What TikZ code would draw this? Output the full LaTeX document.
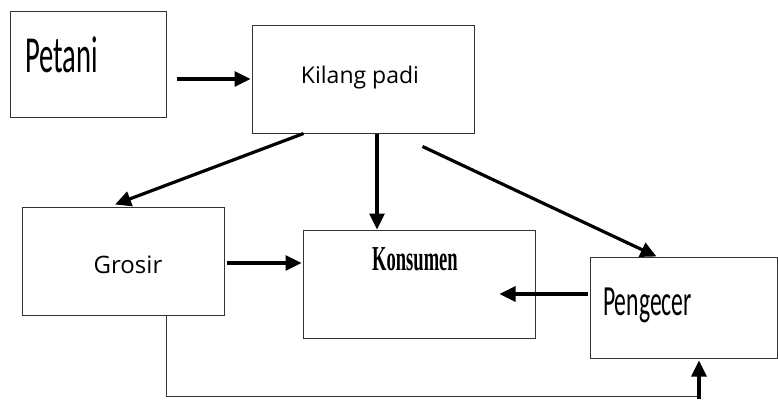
\documentclass[tikz,border=0pt]{standalone}
\usepackage{fontspec}
\setmainfont{Open Sans}
\newfontfamily\condfont{Carlito}
\newfontfamily\serifbold{Liberation Serif}
\usetikzlibrary{arrows.meta,calc}
\begin{document}
\begin{tikzpicture}[x=1pt,y=-1pt,
  box/.style={draw=black!80,line width=1pt,inner sep=0pt,rectangle},
  arr/.style={draw=black,line width=3.2pt,-{Triangle[length=16pt,width=15pt]}},
  thinline/.style={draw=black!80,line width=1pt},
  lbl/.style={inner sep=0pt}]
\useasboundingbox (0,0) rectangle (778,399);
% boxes
\node[box,minimum width=156pt,minimum height=106pt] (petani) at (88,64) {};
\node[box,minimum width=222pt,minimum height=108pt] (kilang) at (363,79) {};
\node[box,minimum width=202pt,minimum height=108pt] (grosir) at (123,261) {};
\node[box,minimum width=232pt,minimum height=108pt] (konsumen) at (419,284) {};
\node[box,minimum width=187pt,minimum height=101pt] (pengecer) at (683.5,307.5) {};
% texts
\node[lbl,anchor=base west] (tpetani) at (25,72) {\condfont\fontsize{52}{52}\selectfont\scalebox{0.55}[1]{Petani}};
\node[lbl,anchor=base] (tkilang) at (360,83) {\fontsize{23}{23}\selectfont Kilang padi};
\node[lbl,anchor=base] (tgrosir) at (128,273) {\fontsize{24}{24}\selectfont Grosir};
\node[lbl,anchor=base west] (tkonsumen) at (372,270) {\serifbold\bfseries\fontsize{35}{35}\selectfont\scalebox{0.53}[1]{Konsumen}};
\node[lbl,anchor=base west] (tpengecer) at (603,315) {\condfont\fontsize{43}{43}\selectfont\scalebox{0.55}[1]{Pengecer}};
% connectors
\draw[arr,shorten <=10pt,shorten >=1pt] (petani.east |- kilang.west) -- (kilang.west);
\draw[arr] ($(kilang.south west)+(52,0)$) -- ($(grosir.north)+(-8,-2)$);
\coordinate (kdown) at ($(kilang.south)+(14,0)$);
\draw[arr] (kdown) -- (kdown |- konsumen.north);
\draw[arr] ($(kilang.south east)+(-52,13)$) -- ($(pengecer.north west)+(67,0)$);
\draw[arr,shorten <=2pt,shorten >=1pt] ($(grosir.east)+(0,2)$) -- ($(konsumen.west)+(0,-21)$);
\draw[arr,shorten <=2pt] ($(pengecer.west)+(0,-13.5)$) -- ($(konsumen.east)+(-36,10)$);
\coordinate (gstart) at ($(grosir.south)+(43,0)$);
\coordinate (bend) at (697,396);
\draw[thinline] (gstart) |- (bend);
\coordinate (foot) at (699,399);
\draw[arr,shorten >=2pt] (foot) -- (foot |- pengecer.south);
\end{tikzpicture}
\end{document}
